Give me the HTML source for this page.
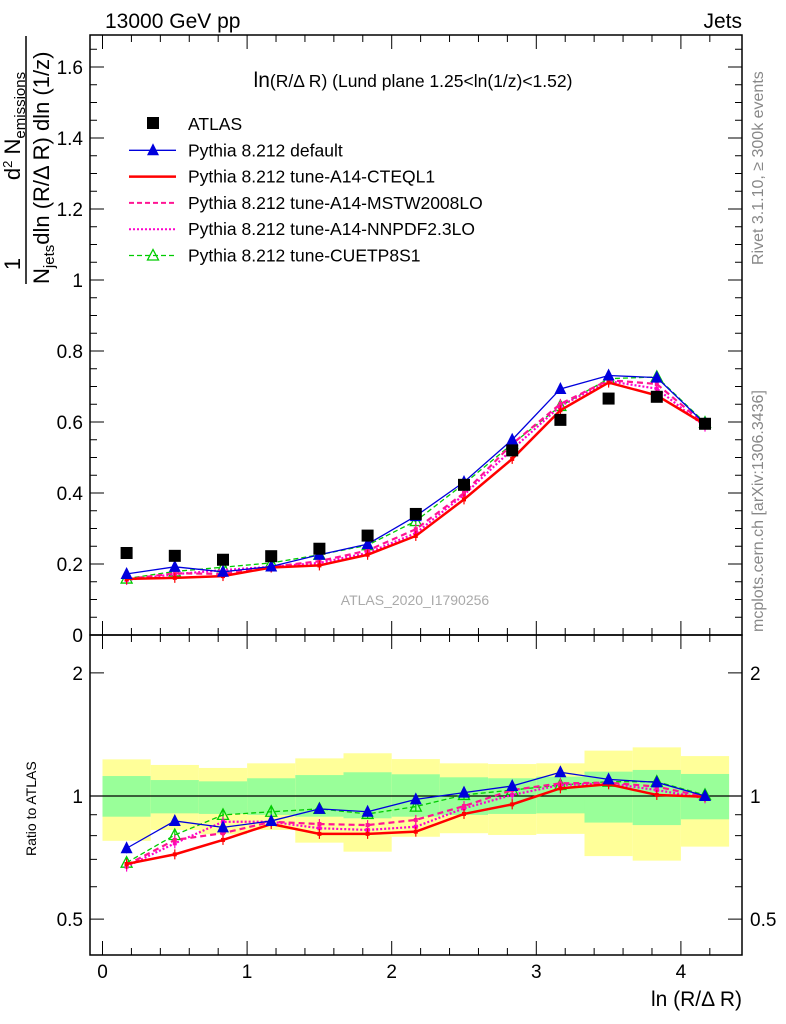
<!DOCTYPE html>
<html><head><meta charset="utf-8"><style>
body{margin:0;background:#fff;}
svg{display:block;font-family:"Liberation Sans",sans-serif;}
</style></head><body>
<svg id="chart" width="786" height="1024" viewBox="0 0 786 1024" xmlns="http://www.w3.org/2000/svg">
<text x="105" y="28" font-size="21">13000 GeV pp</text>
<text x="742" y="28" font-size="21" text-anchor="end">Jets</text>
<text x="413" y="87" font-size="17.5" text-anchor="middle"><tspan font-size="21">ln</tspan>(R/Δ R) (Lund plane 1.25&lt;ln(1/z)&lt;1.52)</text>
<text transform="translate(763,265) rotate(-90)" font-size="16" fill="#888">Rivet 3.1.10, ≥ 300k events</text>
<text transform="translate(763,632) rotate(-90)" font-size="16" fill="#888">mcplots.cern.ch [arXiv:1306.3436]</text>
<text x="415" y="605" font-size="14" fill="#aaa" text-anchor="middle">ATLAS_2020_I1790256</text>
<g font-size="22">
<text transform="translate(20,264) rotate(-90)" text-anchor="middle">1</text>
<line x1="26" y1="36" x2="26" y2="284" stroke="#000" stroke-width="1.5"/>
<text transform="translate(49,284) rotate(-90)">N<tspan font-size="15" dy="5">jets</tspan><tspan dy="-5">dln (R/Δ R) dln (1/z)</tspan></text>
<text transform="translate(20,126) rotate(-90)" text-anchor="middle">d<tspan font-size="13" dy="-8">2</tspan><tspan dy="8"> N</tspan><tspan font-size="15" dy="5">emissions</tspan></text>
</g>
<text transform="translate(36,856) rotate(-90)" font-size="14">Ratio to ATLAS</text>
<text x="742" y="1006" font-size="21" text-anchor="end">ln (R/Δ R)</text>
<g id="plot"></g>
</svg>
<script>
const categories=[0.1667,0.5,0.8333,1.1667,1.5,1.8333,2.1667,2.5,2.8333,3.1667,3.5,3.8333,4.1667];
const binEdges=[0,0.3333,0.6667,1,1.3333,1.6667,2,2.3333,2.6667,3,3.3333,3.6667,4,4.3333];
const atlas=[0.231,0.223,0.212,0.222,0.243,0.28,0.341,0.423,0.52,0.606,0.666,0.671,0.595];
const pyDefault=[0.172,0.192,0.178,0.193,0.226,0.256,0.335,0.431,0.55,0.693,0.731,0.725,0.595];
const pyCTEQL1=[0.158,0.161,0.166,0.19,0.196,0.226,0.279,0.382,0.496,0.633,0.711,0.675,0.593];
const pyMSTW=[0.157,0.174,0.172,0.192,0.208,0.238,0.298,0.4,0.538,0.651,0.718,0.707,0.593];
const pyNNPDF=[0.155,0.171,0.183,0.192,0.203,0.231,0.287,0.395,0.523,0.645,0.715,0.694,0.587];
const pyCUETP=[0.159,0.179,0.191,0.203,0.226,0.253,0.321,0.426,0.538,0.645,0.722,0.727,0.598];
const rDefault=[0.745,0.869,0.838,0.869,0.930,0.915,0.981,1.019,1.058,1.143,1.098,1.080,1.0];
const rCTEQL1=[0.682,0.720,0.781,0.854,0.808,0.808,0.818,0.904,0.954,1.044,1.068,1.006,0.996];
const rMSTW=[0.678,0.781,0.811,0.865,0.854,0.849,0.874,0.945,1.034,1.074,1.078,1.054,0.996];
const rNNPDF=[0.672,0.766,0.865,0.865,0.834,0.826,0.841,0.933,1.006,1.064,1.074,1.034,0.987];
const rCUETP=[0.687,0.803,0.899,0.915,0.930,0.904,0.942,1.006,1.034,1.064,1.084,1.084,1.006];
const yellowHi=[1.229,1.191,1.171,1.202,1.236,1.272,1.231,1.202,1.197,1.202,1.291,1.315,1.252];
const yellowLo=[0.777,0.826,0.806,0.826,0.769,0.731,0.795,0.811,0.803,0.808,0.713,0.695,0.752];
const greenHi=[1.119,1.094,1.086,1.105,1.125,1.143,1.130,1.111,1.105,1.115,1.147,1.158,1.132];
const greenLo=[0.890,0.907,0.904,0.899,0.890,0.882,0.890,0.899,0.904,0.907,0.861,0.849,0.877];
const xTicks=[0,1,2,3,4];
const yTicks=[0,0.2,0.4,0.6,0.8,1,1.2,1.4,1.6];
const yTickLabels=["0","0.2","0.4","0.6","0.8","1","1.2","1.4","1.6"];
const rTicks=[0.5,1,2];
const rTickLabels=["0.5","1","2"];

const NS="http://www.w3.org/2000/svg";
const g=document.getElementById('plot');
const L=90,R=742,T=35,MB=635,RB=955;
const X=v=>102.5+v*144.6;
const Y=v=>635-v*355;
const RY=v=>796-409*Math.log10(v);
function el(tag,attrs,parent){const e=document.createElementNS(NS,tag);for(const k in attrs)e.setAttribute(k,attrs[k]);(parent||g).appendChild(e);return e;}

for(let i=0;i<categories.length;i++){
  const x0=X(binEdges[i]),x1=X(binEdges[i+1]);
  const yb=el('rect',{x:x0,y:RY(yellowHi[i]),width:x1-x0,height:RY(yellowLo[i])-RY(yellowHi[i]),fill:'#ffff99'});
  
  
  const gb=el('rect',{x:x0,y:RY(greenHi[i]),width:x1-x0,height:RY(greenLo[i])-RY(greenHi[i]),fill:'#99ff99'});
  
  
}
const one=el('line',{x1:L,x2:R,y1:RY(1),y2:RY(1),stroke:'#000','stroke-width':1.2});



const f1=el('rect',{x:L,y:T,width:R-L,height:MB-T,fill:'none',stroke:'#000','stroke-width':1.5});


const f2=el('rect',{x:L,y:MB,width:R-L,height:RB-MB,fill:'none',stroke:'#000','stroke-width':1.5});



for(let v=0;v<=4.4;v+=0.2){
  const major=Math.abs(v-Math.round(v))<1e-6;const len=major?14:7;const x=X(v);
  if(x<L||x>R)continue;
  for(const [b,t] of [[MB,T],[RB,MB]]){
    el('line',{x1:x,x2:x,y1:b,y2:b-len,stroke:'#000'});
    el('line',{x1:x,x2:x,y1:t,y2:t+len,stroke:'#000'});
  }
}
xTicks.forEach(v=>{const t=el('text',{x:X(v),y:978,'font-size':19,'text-anchor':'middle'});t.textContent=v;

});
for(let v=0;v<=1.69;v+=0.05){
  const major=Math.abs(v*5-Math.round(v*5))<1e-6;const len=major?14:7;const y=Y(v);
  el('line',{x1:L,x2:L+len,y1:y,y2:y,stroke:'#000'});
  el('line',{x1:R,x2:R-len,y1:y,y2:y,stroke:'#000'});
}
yTicks.forEach((v,i)=>{const t=el('text',{x:83,y:Y(v)+7,'font-size':19,'text-anchor':'end'});t.textContent=yTickLabels[i];

});
[0.5,0.6,0.7,0.8,0.9,1,2].forEach(v=>{
  const major=rTicks.includes(v);const len=major?14:7;const y=RY(v);
  el('line',{x1:L,x2:L+len,y1:y,y2:y,stroke:'#000'});
  el('line',{x1:R,x2:R-len,y1:y,y2:y,stroke:'#000'});
});
rTicks.forEach((v,i)=>{
  const t=el('text',{x:83,y:RY(v)+7,'font-size':19,'text-anchor':'end'});t.textContent=rTickLabels[i];
  
  
  const t2=el('text',{x:750,y:RY(v)+7,'font-size':19});t2.textContent=rTickLabels[i];
  
  
});

function marker(type,x,y,color,parent){
  if(type==='tri')el('polygon',{points:`${x},${y-7} ${x-6},${y+5} ${x+6},${y+5}`,fill:color},parent);
  else if(type==='otri')el('polygon',{points:`${x},${y-6} ${x-5.5},${y+4.5} ${x+5.5},${y+4.5}`,fill:'none',stroke:color,'stroke-width':1.3},parent);
  else if(type==='dot')el('rect',{x:x-2,y:y-2,width:4,height:4,fill:color},parent);
}
const series=[
 {name:'cuetp8s1',main:pyCUETP,ratio:rCUETP,color:'#00cc00',w:1.3,dash:'5,3',m:'otri'},
 {name:'nnpdf23lo',main:pyNNPDF,ratio:rNNPDF,color:'#ff00cc',w:2.2,dash:'2,2',m:'dot'},
 {name:'mstw2008lo',main:pyMSTW,ratio:rMSTW,color:'#ff1493',w:2.2,dash:'6,4',m:'dot'},
 {name:'cteql1',main:pyCTEQL1,ratio:rCTEQL1,color:'#ff0000',w:2.5,dash:'',m:'dot'},
 {name:'default',main:pyDefault,ratio:rDefault,color:'#0000dd',w:1.3,dash:'',m:'tri'},
];
series.forEach(s=>{
  for(const [vals,fy,panel] of [[s.main,Y,'main'],[s.ratio,RY,'ratio']]){
    const grp=el('g',{});
    
    
    const pts=vals.map((v,i)=>X(categories[i])+','+fy(v)).join(' ');
    el('polyline',{points:pts,fill:'none',stroke:s.color,'stroke-width':s.w,'stroke-dasharray':s.dash},grp);
    vals.forEach((v,i)=>{const x=X(categories[i]),y=fy(v);
      el('line',{x1:x,x2:x,y1:y-5,y2:y+5,stroke:s.color,'stroke-width':1.2},grp);
      marker(s.m,x,y,s.color,grp);});
  }
});
const ag=el('g',{});


atlas.forEach((v,i)=>{el('rect',{x:X(categories[i])-6,y:Y(v)-6,width:12,height:12,fill:'#000'},ag);});

const leg=el('g',{});


const legItems=[
 ['ATLAS','#000','',0,'sq'],
 ['Pythia 8.212 default','#0000dd','',1.3,'tri'],
 ['Pythia 8.212 tune-A14-CTEQL1','#ff0000','',2.5,''],
 ['Pythia 8.212 tune-A14-MSTW2008LO','#ff1493','5,3',2,''],
 ['Pythia 8.212 tune-A14-NNPDF2.3LO','#ff00cc','2,2',2,''],
 ['Pythia 8.212 tune-CUETP8S1','#00cc00','5,3',1.3,'otri'],
];
legItems.forEach((it,i)=>{
  const y=124+i*26.3;
  const e=el('g',{},leg);
  
  
  if(it[4]==='sq')el('rect',{x:147,y:y-7,width:12,height:12,fill:'#000'},e);
  else el('line',{x1:129,x2:176,y1:y,y2:y,stroke:it[1],'stroke-width':it[3],'stroke-dasharray':it[2]},e);
  if(it[4]==='tri'||it[4]==='otri')marker(it[4],153,y,it[1],e);
  const t=el('text',{x:188,y:y+6,'font-size':17.5},e);t.textContent=it[0];
});
</script>
</body></html>
